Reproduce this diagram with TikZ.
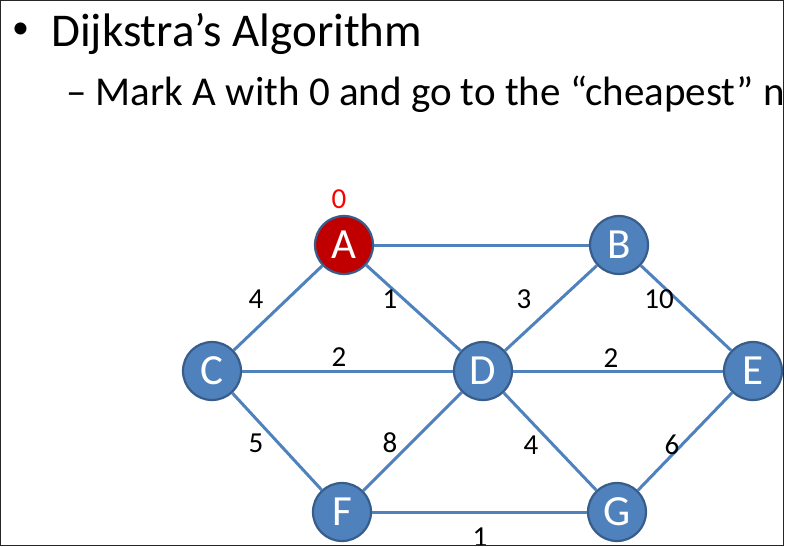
\documentclass[tikz,border=0pt]{standalone}
\usepackage{fontspec}
\setmainfont{Carlito}
\begin{document}
\begin{tikzpicture}[x=1pt,y=-1pt,
  vert/.style={circle,fill=nodeblue,draw=nodeborder,line width=2.2pt,minimum size=58pt,inner sep=0pt,text=white,font=\fontsize{43}{43}\selectfont},
  edge/.style={draw=nodeblue,line width=3pt},
  wlab/.style={font=\fontsize{29}{29}\selectfont,inner sep=0pt},
  ]
\definecolor{nodeblue}{HTML}{4F81BD}
\definecolor{nodeborder}{HTML}{385D8A}
\definecolor{markred}{HTML}{C00000}
\useasboundingbox (0,0) rectangle (786,546);
\begin{scope}
\clip (0,0) rectangle (783.5,545);
\node[anchor=center,inner sep=0pt,font=\fontsize{34}{34}\selectfont] (bul) at (20.5,31) {•};
\node[anchor=base west,inner sep=0pt,font=\fontsize{47}{47}\selectfont] (title) at (51,46) {Dijkstra’s Algorithm};
\node[anchor=base west,inner sep=0pt,font=\fontsize{41}{41}\selectfont] (sub) at (66,105) {– Mark A with 0 and go to the “cheapest” node};
\node[vert,fill=markred] (A) at (344,245) {A};
\node[vert] (B) at (619,245) {B};
\node[vert] (C) at (212,371) {C};
\node[vert] (D) at (483,371) {D};
\node[vert] (E) at (753,371) {E};
\node[vert] (F) at (342,512) {F};
\node[vert] (G) at (617,512) {G};
\path[edge] (A) -- (B);
\path[edge] (A) -- (C);
\path[edge] (A) -- (D);
\path[edge] (B) -- (D);
\path[edge] (B) -- (E);
\path[edge] (C) -- (D);
\path[edge] (D) -- (E);
\path[edge] (C) -- (F);
\path[edge] (D) -- (F);
\path[edge] (D) -- (G);
\path[edge] (E) -- (G);
\path[edge] (F) -- (G);
\node[wlab,text=red] (l0) at (339,199) {0};
\node[wlab] (lAC) at (256,299) {4};
\node[wlab] (lAD) at (390,299) {1};
\node[wlab] (lBD) at (524,299) {3};
\node[wlab] (lBE) at (659,299) {10};
\node[wlab] (lCD) at (339,357) {2};
\node[wlab] (lDE) at (611,358) {2};
\node[wlab] (lCF) at (256,443) {5};
\node[wlab] (lDF) at (390,443) {8};
\node[wlab] (lDG) at (531,445) {4};
\node[wlab] (lEG) at (672,445) {6};
\node[wlab] (lFG) at (480,537) {1};
\end{scope}
\draw[line width=1pt,draw=black!85] (0.5,0.5) rectangle (783.5,545);
\end{tikzpicture}
\end{document}
